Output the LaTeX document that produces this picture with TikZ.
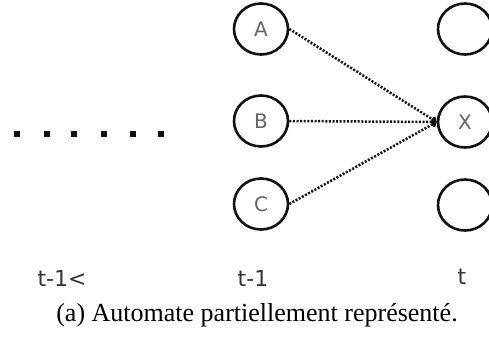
\documentclass[tikz,border=0pt]{standalone}
\usepackage{fontspec}
\setmainfont{Liberation Serif}
\newfontfamily\statefont{DejaVu Sans}
\usetikzlibrary{shapes.geometric,arrows.meta}
\definecolor{ink}{HTML}{111111}
\tikzset{
  etat/.style  = {draw=ink, ellipse, line width=2.6pt, minimum width=54pt, minimum height=51pt,
                  inner sep=0pt, font=\statefont\fontsize{20}{20}\selectfont, text=ink!65},
  trans/.style = {draw=ink, line width=2.5pt, dash pattern=on 2pt off 1.6pt,
                  -{Straight Barb[length=3pt,width=6pt]}},
  tps/.style   = {anchor=base, font=\statefont\fontsize{22}{22}\selectfont, text=ink!85},
  pas/.style   = {fill=ink, minimum size=6pt, inner sep=0pt},
}
\begin{document}
\begin{tikzpicture}[x=1pt,y=-1pt]
\useasboundingbox (0,0) rectangle (489,338);
\clip (0,0) rectangle (489,338);

% ------------------------------------------------------------------ states
\node[etat] (a) at (261,29)  {A};
\node[etat] (b) at (261,121) {B};
\node[etat] (c) at (261,204) {C};
\node[etat] (x1) at (465,29)  {};
\node[etat] (x)  at (465,122) {X};
\node[etat] (x3) at (465,205) {};

\foreach \s in {a,b,c}{\draw[trans] (\s.east) -- (x.west);}

% ------------------------------------------------------------------ earlier steps
\foreach \k [count=\i] in {17,47,74,104,133,161}{\node[pas] (p\i) at (\k,134) {};}

% ------------------------------------------------------------------ time axis
\node[tps] (t2) at (62,286)  {t-1<};
\node[tps] (t1) at (253,286) {t-1};
\node[tps] (t0) at (462,284) {t};

\node[anchor=base, font=\fontsize{26}{28}\selectfont] (cap) at (257,321) {(a) Automate partiellement représenté.};

\end{tikzpicture}
\end{document}
